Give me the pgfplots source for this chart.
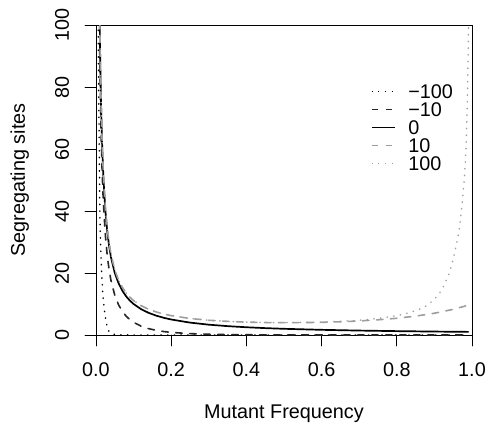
\documentclass[border=0pt]{standalone}
\usepackage{fontspec}
\setmainfont{Liberation Sans}
\usepackage{pgfplots}
\pgfplotsset{compat=1.18}
\definecolor{rgray}{RGB}{158,158,158}
\newcommand{\fs}{\fontsize{19.8}{22}\selectfont}

\begin{document}
\begin{tikzpicture}
\begin{axis}[
  scale only axis,
  width=376pt, height=310pt,
  xmin=0, xmax=1, ymin=0, ymax=100,
  xtick={0,0.2,0.4,0.6,0.8,1}, xticklabels={0.0,0.2,0.4,0.6,0.8,1.0},
  ytick={0,20,40,60,80,100}, yticklabels={0,20,40,60,80,100},
  xtick pos=bottom, ytick pos=left,
  tick align=outside, major tick length=11pt,
  tick style={black, line width=0.8pt},
  axis line style={black, line width=0.8pt},
  every tick label/.append style={font=\fs},
  xticklabel style={anchor=base},
  xticklabel shift=30pt,
  yticklabel style={rotate=90, anchor=base},
  yticklabel shift=16pt,
  xlabel={Mutant Frequency},
  ylabel={Segregating sites},
  label style={font=\fs},
  xlabel style={at={(axis description cs:0.5,0)}, anchor=base, yshift=-83.3pt},
  ylabel style={at={([xshift=-71pt]axis description cs:0,0.5)}, anchor=base},
  legend style={draw=none, fill=none, font=\fs, at={(axis cs:0.722,81.5)}, anchor=north west,
    nodes={inner sep=0pt, text height=13.6pt, text depth=0pt}, row sep=4.4pt,
    /tikz/every odd column/.append style={column sep=13pt}},
  legend cell align=left,
  legend image code/.code={\draw[#1] (0pt,0pt) -- (23pt,0pt);},
  line cap=round,
]
% s = -100
\addplot[black, line width=1.5pt, dash pattern=on 0.4pt off 6.3pt] coordinates {
(0.005,120) (0.006,98) (0.007,80) (0.008,68) (0.009,55) (0.0106,37) (0.012,30)
(0.0133,25) (0.015,20) (0.0177,14) (0.02,10.5) (0.024,6.5) (0.028,3.5) (0.032,1.8)
(0.035,1.0) (0.04,0.5) (0.05,0.15) (0.06,0.05) (0.08,0.005) (0.1,0) (0.3,0) (0.6,0) (0.99,0)
};
\addlegendentry{−100}
% s = -10
\addplot[black!85, line width=1.6pt, dash pattern=on 6.5pt off 7.5pt] coordinates {
(0.01,91.4) (0.011,82.3) (0.012,74.8) (0.014,63.0) (0.016,54.1) (0.018,47.3) (0.02,41.8)
(0.025,32.0) (0.03,25.5) (0.035,20.9) (0.04,17.5) (0.05,12.8) (0.06,9.73) (0.07,7.63)
(0.08,6.11) (0.09,4.96) (0.1,4.09) (0.12,2.85) (0.14,2.05) (0.16,1.50) (0.18,1.12)
(0.2,0.846) (0.25,0.438) (0.3,0.237) (0.35,0.133) (0.4,0.076) (0.5,0.027) (0.6,0.010)
(0.7,0.004) (0.8,0.002) (0.9,0.001) (0.99,0.0005)
};
\addlegendentry{−10}
% s = 0
\addplot[black, line width=1.7pt] coordinates {
(0.01,100) (0.011,90.9) (0.012,83.3) (0.014,71.4) (0.016,62.5) (0.018,55.6) (0.02,50)
(0.025,40) (0.03,33.3) (0.035,28.6) (0.04,25) (0.05,20) (0.06,16.7) (0.07,14.3)
(0.08,12.5) (0.09,11.1) (0.1,10) (0.12,8.33) (0.14,7.14) (0.16,6.25) (0.18,5.56)
(0.2,5) (0.25,4) (0.3,3.33) (0.35,2.86) (0.4,2.5) (0.45,2.22) (0.5,2) (0.6,1.67)
(0.7,1.43) (0.8,1.25) (0.9,1.11) (0.99,1.01)
};
\addlegendentry{0}
% s = 10
\addplot[rgray, line width=1.6pt, dash pattern=on 6.5pt off 7.5pt] coordinates {
(0.01,101) (0.011,91.8) (0.012,84.3) (0.014,72.4) (0.016,63.5) (0.018,56.6) (0.02,51.0)
(0.025,41.0) (0.03,34.4) (0.035,29.6) (0.04,26.0) (0.05,21.0) (0.06,17.7) (0.07,15.4)
(0.08,13.6) (0.09,12.2) (0.1,11.1) (0.12,9.47) (0.14,8.30) (0.16,7.44) (0.18,6.77)
(0.2,6.25) (0.25,5.33) (0.3,4.76) (0.35,4.39) (0.4,4.16) (0.45,4.02) (0.5,3.97)
(0.55,4.00) (0.6,4.09) (0.65,4.26) (0.7,4.53) (0.75,4.90) (0.8,5.40) (0.85,6.09)
(0.9,7.02) (0.95,8.28) (0.99,9.61)
};
\addlegendentry{10}
% s = 100
\addplot[rgray, line width=1.5pt, dash pattern=on 0.4pt off 6.3pt] coordinates {
(0.01,101) (0.011,91.9) (0.012,84.3) (0.014,72.4) (0.016,63.5) (0.018,56.6) (0.02,51)
(0.025,41) (0.03,34.4) (0.035,29.6) (0.04,26.0) (0.05,21.05) (0.06,17.7) (0.07,15.4)
(0.08,13.6) (0.09,12.2) (0.1,11.1) (0.12,9.47) (0.14,8.30) (0.16,7.44) (0.18,6.78)
(0.2,6.25) (0.25,5.33) (0.3,4.76) (0.35,4.40) (0.4,4.17) (0.45,4.04) (0.5,4.0)
(0.55,4.04) (0.6,4.17) (0.65,4.40) (0.7,4.76) (0.75,5.33) (0.8,6.25) (0.82,6.78)
(0.84,7.44) (0.86,8.30) (0.88,9.47) (0.9,11.5) (0.92,14.5) (0.94,20) (0.95,24.5)
(0.96,30) (0.966,34) (0.97,38) (0.975,44) (0.98,51) (0.984,60) (0.986,68) (0.988,78)
(0.99,92) (0.991,102)
};
\addlegendentry{100}
\end{axis}
\pgfresetboundingbox
\path[use as bounding box] (-96pt,-89pt) rectangle (389pt,335pt);
\end{tikzpicture}
\end{document}
